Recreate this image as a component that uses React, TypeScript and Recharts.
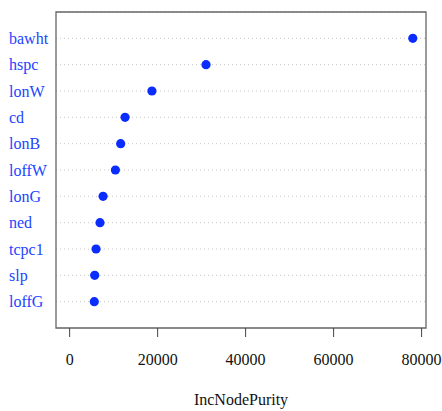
import React from "react";
import {
  CartesianGrid,
  ReferenceArea,
  Scatter,
  ScatterChart,
  XAxis,
  YAxis,
} from "recharts";

// variables, top to bottom as drawn
const variables = [
  "bawht",
  "hspc",
  "lonW",
  "cd",
  "lonB",
  "loffW",
  "lonG",
  "ned",
  "tcpc1",
  "slp",
  "loffG",
];

// IncNodePurity
const purity = [78000, 31000, 18700, 12600, 11600, 10400, 7600, 6900, 6000, 5700, 5600];

const xTicks = [0, 20000, 40000, 60000, 80000];

const rows = variables.map((name, i) => ({
  name,
  value: purity[i],
  pos: variables.length - i,
}));
const yTicks = rows.map((r) => r.pos);

const BLUE = "#0a2cff";
const SERIF = "'Liberation Serif', 'DejaVu Serif', serif";

const LeftTick = (props: any) => {
  const { y, payload } = props;
  const row = rows.find((r) => r.pos === payload.value);
  return (
    <text
      x={9}
      y={y}
      dy="0.35em"
      textAnchor="start"
      fill="#2244ff"
      fontFamily={SERIF}
      fontSize={16}
    >
      {row ? row.name : ""}
    </text>
  );
};

const App: React.FC = () => {
  return (
    <div style={{ position: "fixed", top: 0, left: 0, background: "#fff" }}>
      <ScatterChart
        width={442}
        height={411}
        margin={{ top: 12, right: 16, bottom: 0, left: 0 }}
      >
        <CartesianGrid
          horizontal
          vertical={false}
          stroke="#c8c8c8"
          strokeDasharray="1 3"
        />
        <XAxis
          type="number"
          dataKey="value"
          domain={[-3100, 81000]}
          ticks={xTicks}
          allowDataOverflow
          height={83}
          axisLine={false}
          tickLine={{ stroke: "#444" }}
          tickSize={9}
          tickMargin={17}
          tick={{ fill: "#111", fontFamily: SERIF, fontSize: 16 }}
          label={{
            value: "IncNodePurity",
            position: "insideBottom",
            offset: 6,
            fill: "#111",
            fontFamily: SERIF,
            fontSize: 16,
          }}
        />
        <YAxis
          type="number"
          dataKey="pos"
          domain={[0, 12]}
          ticks={yTicks}
          interval={0}
          width={56}
          axisLine={false}
          tickLine={false}
          tick={<LeftTick />}
        />
        <ReferenceArea
          x1={-3100}
          x2={81000}
          y1={0}
          y2={12}
          fill="none"
          stroke="#666"
          strokeWidth={1.3}
          ifOverflow="visible"
        />
        <Scatter data={rows} fill={BLUE} isAnimationActive={false} shape={(p: any) => (
          <circle cx={p.cx} cy={p.cy} r={4.6} fill={BLUE} />
        )} />
      </ScatterChart>
    </div>
  );
};

export default App;
